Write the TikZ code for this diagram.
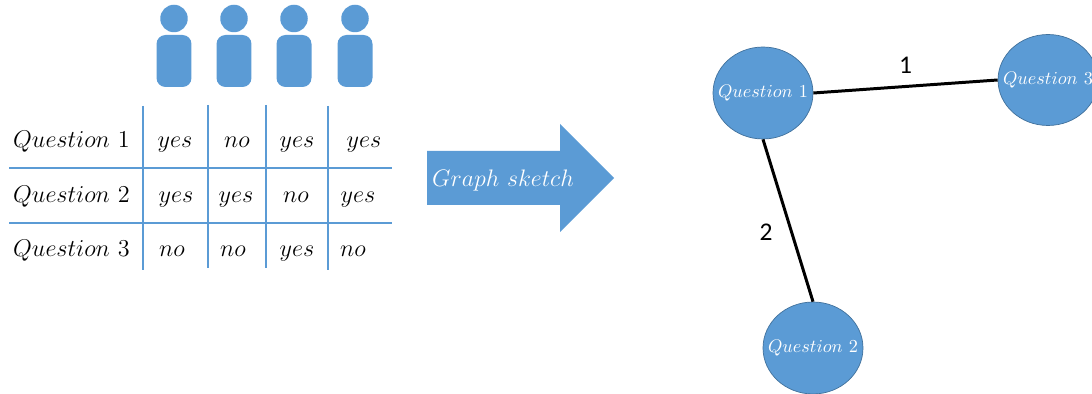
\documentclass[tikz,border=0pt]{standalone}
\usepackage{fix-cm}
\usepackage{fontspec}
\newfontfamily\labelfont{Carlito}
\usetikzlibrary{shapes.geometric}
\definecolor{officeblue}{HTML}{5B9BD5}
\definecolor{officeedge}{HTML}{41719C}
\newcommand\qlabel[1]{\makebox[0pt]{$Question\ #1$}}
\begin{document}
\begin{tikzpicture}[x=0.02cm,y=-0.02cm,
  question node/.style={ellipse,draw=officeedge,fill=officeblue,minimum width=2cm,minimum height=1.84cm,inner sep=0pt,text=white,font=\fontsize{10.4}{12}\selectfont},
  cell/.style={anchor=base,font=\fontsize{13.8}{16}\selectfont},
  grid line/.style={draw=officeblue,line width=0.6pt},
  head/.style={circle,fill=officeblue,minimum size=0.55cm,inner sep=0pt},
  body/.style={rectangle,rounded corners=0.18cm,fill=officeblue,minimum width=0.7cm,minimum height=1.04cm,inner sep=0pt}]
  \useasboundingbox (0,0) rectangle (1092,394);

  % people
  \foreach \px [count=\i] in {174,234,294,355}
   {\node[head] (head\i) at (\px,18.5) {};
    \node[body] (body\i) at (\px,61) {};}

  % table
  \draw[grid line] (143,106) -- (143,270);
  \draw[grid line] (208,105) -- (208,268);
  \draw[grid line] (266,105) -- (266,268);
  \draw[grid line] (328,106) -- (328,270);
  \draw[grid line] (9,168) -- (392,168);
  \draw[grid line] (9,223) -- (392,223);

  \node[cell,anchor=base west] (row1) at (7,148) {$Question\ 1$};
  \node[cell,anchor=base west] (row2) at (7,203) {$Question\ 2$};
  \node[cell,anchor=base west] (row3) at (7,257) {$Question\ 3$};

  \node[cell] (a11) at (175,148) {$yes$};
  \node[cell] (a12) at (237,148) {$no$};
  \node[cell] (a13) at (297,148) {$yes$};
  \node[cell] (a14) at (364,148) {$yes$};
  \node[cell] (a21) at (176,203) {$yes$};
  \node[cell] (a22) at (236,203) {$yes$};
  \node[cell] (a23) at (296,203) {$no$};
  \node[cell] (a24) at (358,203) {$yes$};
  \node[cell] (a31) at (172,257) {$no$};
  \node[cell] (a32) at (233,257) {$no$};
  \node[cell] (a33) at (297,257) {$yes$};
  \node[cell] (a34) at (353,257) {$no$};

  % arrow
  \fill[officeblue] (427,151) -- (560,151) -- (560,124) -- (614,178)
    -- (560,232) -- (560,205) -- (427,205) -- cycle;
  \node[anchor=base,text=white,font=\fontsize{13.6}{16}\selectfont] (sketch) at (503,187) {$Graph\ sketch$};

  % graph
  \node[question node] (q1) at (763,93) {\qlabel{1}};
  \node[question node] (q2) at (813,348) {\qlabel{2}};
  \node[question node,minimum height=1.82cm] (q3) at (1048,80) {\qlabel{3}};

  \path[line width=1.7pt,every node/.style={font=\labelfont\fontsize{14.5}{17}\selectfont,inner sep=0pt}]
   (q1.east) edge node[above=6.5pt]{1} (q3.west)
   (q1.south) edge node[pos=0.57,left=10pt]{2} (q2.north);
\end{tikzpicture}
\end{document}
